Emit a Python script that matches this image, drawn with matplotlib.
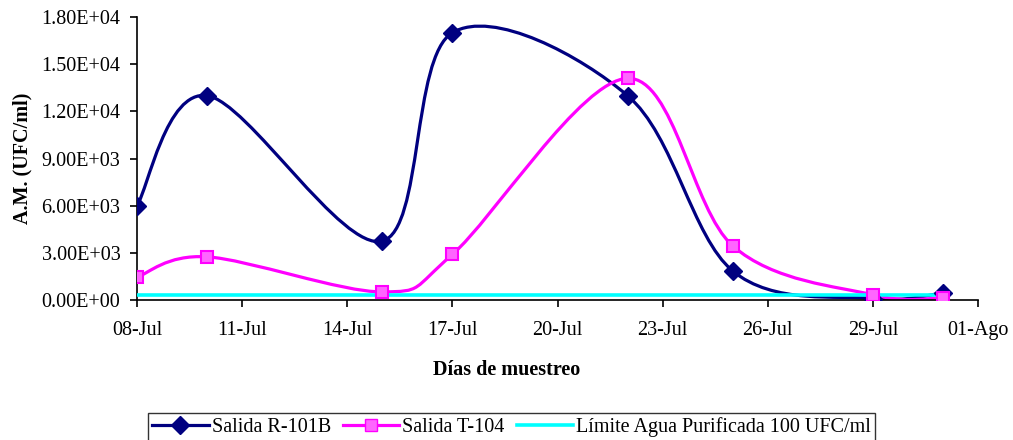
import numpy as np
import matplotlib.pyplot as plt
import matplotlib.dates as mdates
from matplotlib.path import Path
from matplotlib.patches import PathPatch
from matplotlib.lines import Line2D
from datetime import date

plt.rcParams['font.family'] = ['Liberation Serif', 'DejaVu Serif']

# muestreo
fechas = [date(2008, 7, 8), date(2008, 7, 10), date(2008, 7, 15), date(2008, 7, 17),
          date(2008, 7, 22), date(2008, 7, 25), date(2008, 7, 29), date(2008, 7, 31)]
r101b = [6000, 13000, 3750, 17000, 13000, 1850, 100, 450]
t104 = [1460, 2750, 520, 2900, 14100, 3450, 330, 140]
limite = [300, 300, 300, 300, 300, 300, 300, 300]

tick_fechas = [date(2008, 7, 8), date(2008, 7, 11), date(2008, 7, 14), date(2008, 7, 17),
               date(2008, 7, 20), date(2008, 7, 23), date(2008, 7, 26), date(2008, 7, 29),
               date(2008, 8, 1)]
tick_labels = ['08-Jul', '11-Jul', '14-Jul', '17-Jul', '20-Jul', '23-Jul', '26-Jul',
               '29-Jul', '01-Ago']
y_ticks = [0, 3000, 6000, 9000, 12000, 15000, 18000]
y_labels = ['0.00E+00', '3.00E+03', '6.00E+03', '9.00E+03', '1.20E+04', '1.50E+04', '1.80E+04']

azul = '#000080'
rosa = '#ff00ff'
cian = '#00ffff'


def curva_suave(x, y):
    # bezier tipo excel (catmull-rom) entre puntos consecutivos
    x = np.asarray(x, float)
    y = np.asarray(y, float)
    n = len(x)
    verts = [(x[0], y[0])]
    codes = [Path.MOVETO]
    for i in range(n - 1):
        i0 = max(i - 1, 0)
        i3 = min(i + 2, n - 1)
        c1 = (x[i] + (x[i + 1] - x[i0]) / 6, y[i] + (y[i + 1] - y[i0]) / 6)
        c2 = (x[i + 1] - (x[i3] - x[i]) / 6, y[i + 1] - (y[i3] - y[i]) / 6)
        verts += [c1, c2, (x[i + 1], y[i + 1])]
        codes += [Path.CURVE4] * 3
    return Path(verts, codes)


xd = mdates.date2num(fechas)

fig = plt.figure(figsize=(10.13, 4.40), dpi=100)
ax = fig.add_axes([0.1352, 0.318, 0.8303, 0.6434])

ax.add_patch(PathPatch(curva_suave(xd, r101b), facecolor='none', edgecolor=azul, lw=2.3, zorder=2))
ax.add_patch(PathPatch(curva_suave(xd, t104), facecolor='none', edgecolor=rosa, lw=2.3, zorder=2))
ax.plot(xd, limite, color=cian, lw=2.6, zorder=3)

ax.plot(xd, r101b, ls='none', marker='D', ms=8.7, color=azul, zorder=4)
ax.plot(xd, t104, ls='none', marker='s', ms=8, markerfacecolor='#ff66ff',
        markeredgecolor=rosa, markeredgewidth=1.5, zorder=5)

ax.set_xlim(mdates.date2num(tick_fechas[0]), mdates.date2num(tick_fechas[-1]))
ax.set_ylim(0, 18000)
ax.set_xticks(mdates.date2num(tick_fechas))
ax.set_xticklabels(tick_labels)
ax.set_yticks(y_ticks)
ax.set_yticklabels(y_labels)

for s in ['top', 'right']:
    ax.spines[s].set_visible(False)
for s in ['left', 'bottom']:
    ax.spines[s].set_linewidth(1.2)
    ax.spines[s].set_color('black')
ax.tick_params(axis='both', direction='out', length=5, width=1.2, labelsize=14.5, colors='black')
ax.tick_params(axis='y', pad=7)
ax.tick_params(axis='x', pad=10)

fig.text(0.022, 0.318 + 0.6434 / 2, 'A.M. (UFC/ml)', rotation=90, ha='center', va='center',
         fontsize=14.5, fontweight='bold')
fig.text(0.5, 0.159, 'Días de muestreo', ha='center', va='center', fontsize=14.5, fontweight='bold')

handles = [Line2D([], [], color=azul, lw=2.3, marker='D', ms=8.7),
           Line2D([], [], color=rosa, lw=2.3, marker='s', ms=8, markerfacecolor='#ff66ff',
                  markeredgecolor=rosa),
           Line2D([], [], color=cian, lw=2.6)]
leg = fig.legend(handles, ['Salida R-101B', 'Salida T-104', 'Límite Agua Purificada 100 UFC/ml'],
                 loc='center', bbox_to_anchor=(0.505, 0.03), ncol=3, fontsize=14.5,
                 frameon=True, fancybox=False, handlelength=2.8, handletextpad=0.15,
                 columnspacing=0.6, borderpad=0.2, borderaxespad=0)
leg.get_frame().set_edgecolor('black')
leg.get_frame().set_linewidth(1.0)

fig.savefig('out.png', dpi=100)
